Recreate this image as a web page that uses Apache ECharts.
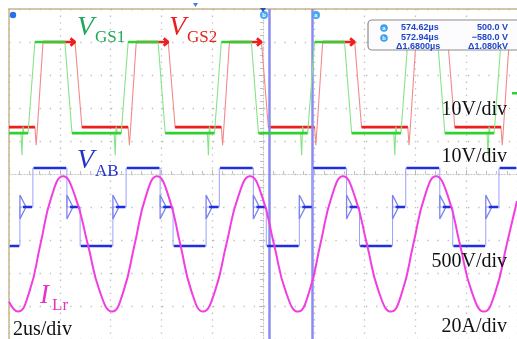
<!DOCTYPE html>
<html lang="en">
<head>
<meta charset="UTF-8">
<title>LLC waveforms</title>
<script src="https://cdn.jsdelivr.net/npm/echarts@6/dist/echarts.min.js"></script>
<style>
  html, body { margin: 0; padding: 0; background: #fff; }
  #main { width: 517px; height: 339px; }
</style>
</head>
<body>
<div id="main"></div>
<script>
// time in us, 0 = trigger (screen centre), 2us/div
var gs1Rise = [[-9.25,-8.98],[-5.58,-5.31],[-1.91,-1.64],[1.76,2.03],[5.43,5.70],[9.10,9.37]];
var gs1Fall = [[-7.80,-7.52],[-4.13,-3.85],[-0.46,-0.18],[3.21,3.49],[6.88,7.16]];
var gs1Glitch = [-9.49,-5.82,-2.15,1.52,5.19,8.86];
var gs1Levels = [0, 27.6];      // V, 10V/div

var gs2Rise = [[-8.98,-8.66],[-5.31,-4.99],[-1.64,-1.32],[2.03,2.35],[5.70,6.02],[9.37,9.69]];
var gs2Fall = [[-7.40,-7.13],[-3.73,-3.46],[-0.06,0.21],[3.61,3.88],[7.28,7.55]];
var gs2Levels = [0, 25.8];      // V, 10V/div

// V_AB step start times and levels (V, 500V/div)
var vabTimes  = [-10,-9.57,-9.06,-7.72,-7.20,-5.91,-5.39,-4.05,-3.54,-2.24,-1.72,-0.38,0.13,1.43,1.95,3.29,3.80,5.10,5.62,6.96,7.47,8.77,9.29];
var vabLevels = [-590,0,590,0,-590,0,590,0,-590,0,590,0,-590,0,590,0,-590,0,590,0,-590,0,590];

// I_Lr (A, 20A/div)
var ilrTimes  = [-10,-9.65,-9.20,-8.76,-8.32,-7.87,-7.40,-6.90,-6.42,-5.94,-5.50,-5.05,-4.61,-4.17,-3.72,-3.26,-2.81,-2.36,-1.90,-1.44,-0.97,-0.51,-0.04,0.43,0.90,1.38,1.82,2.26,2.71,3.15,3.61,4.09,4.56,5.04,5.48,5.92,6.37,6.81,7.28,7.75,8.22,8.70,9.15,9.60,10];
var ilrValues = [-35,-41,-29,0,29,41,29,0,-29,-41,-29,0,29,41,29,0,-29,-41,-29,0,29,41,29,0,-29,-41,-29,0,29,41,29,0,-29,-41,-29,0,29,41,29,0,-29,-41,-29,0,26];

var cursorTimes = [1.93, 0.25];   // a, b

// channel scale (units/div) and ground offset (div)
var ch = {
  gs1: { scale: 10,  off: 1.24 },
  gs2: { scale: 10,  off: 1.42 },
  vab: { scale: 500, off: -1.0 },
  ilr: { scale: 20,  off: -2.12 }
};

function gate(rise, fall, glitch, lv, c, dip, arrow) {
  var lo = lv[0], hi = lv[1];
  function p(t, v) { return [t, c.off + v / c.scale]; }
  var thin = [p(-10, lo)], thick = [];
  var segStart = -10;
  for (var i = 0; i < rise.length; i++) {
    var r0 = rise[i][0], r1 = rise[i][1];
    if (glitch) {
      var g = glitch[i];
      thin.push(p(g - 0.04, lo), p(g, lo - 6.7), p(g + 0.04, lo + 2), p(g + 0.08, lo));
    }
    thick.push(p(segStart, lo), p(r0, lo), [r0, '-']);
    thin.push(p(r0, lo));
    if (dip) thin.push(p(r0 + 0.05, lo - 5.5), p(r0 + 0.1, lo));
    thin.push(p(r1, hi));
    var hiEnd = fall[i] ? fall[i][0] : 10;
    thick.push(p(r1, hi), p(hiEnd, hi), [hiEnd, '-']);
    if (arrow && fall[i]) {
      thick.push(p(hiEnd - 0.18, hi + 1.1), p(hiEnd, hi), p(hiEnd - 0.18, hi - 1.1), [hiEnd, '-']);
    }
    if (fall[i]) {
      thin.push(p(hiEnd, hi), p(fall[i][1], lo));
      segStart = fall[i][1];
    } else {
      thin.push(p(10, hi));
    }
  }
  if (rise.length === fall.length) thin.push(p(10, lo));
  return { thin: thin, thick: thick };
}

var g1 = gate(gs1Rise, gs1Fall, gs1Glitch, gs1Levels, ch.gs1, false, false);
var g2 = gate(gs2Rise, gs2Fall, null, gs2Levels, ch.gs2, true, true);

// V_AB: faint steps, thick flats, small triangle where the mid level starts
var vabThin = [], vabThick = [], vabGlyph = [];
function pv(t, v) { return [t, ch.vab.off + v / ch.vab.scale]; }
for (var i = 0; i < vabTimes.length; i++) {
  var t0 = vabTimes[i], t1 = i + 1 < vabTimes.length ? vabTimes[i + 1] : 10;
  var v = vabLevels[i];
  vabThin.push(pv(t0, v), pv(t1, v));
  if (v === 0 && i > 0) {
    vabGlyph.push(pv(t0, 180), pv(t0 + 0.24, 0), pv(t0, -180), pv(t0, 180), [t0, '-']);
    vabThick.push(pv(t0 + 0.12, 0), pv(t1 - 0.03, 0), [t1, '-']);
  } else {
    vabThick.push(pv(t0 + 0.03, v), pv(t1 - 0.03, v), [t1, '-']);
  }
}

var ilrData = ilrTimes.map(function (t, k) { return [t, ch.ilr.off + ilrValues[k] / ch.ilr.scale]; });

function line(data, color, width, extra) {
  var s = {
    type: 'line', data: data, showSymbol: false, symbol: 'none',
    lineStyle: { color: color, width: width }, silent: true, connectNulls: false
  };
  for (var k in extra) s[k] = extra[k];
  return s;
}

var serif = '"Liberation Serif", "Times New Roman", serif';
var boxFont = 'bold 9px "Liberation Sans", Arial, sans-serif';
var boxBlue = '#2046c8';

function txt(x, y, text, font, fill, align) {
  return { type: 'text', x: x, y: y, z: 50,
    style: { text: text, font: font, fill: fill, align: align || 'left', verticalAlign: 'middle' } };
}

var myChart = echarts.init(document.getElementById('main'));
var option = {
  animation: false,
  backgroundColor: '#ffffff',
  grid: { left: 9, right: 0, top: 9, bottom: 0 },
  xAxis: [
    { type: 'value', min: -10, max: 10, interval: 2, position: 'top',
      axisLine: { show: true, onZero: false, lineStyle: { color: '#c9b48a', width: 1.5 } },
      axisTick: { show: false }, axisLabel: { show: false },
      splitLine: { show: true, lineStyle: { color: '#bdbdbd', width: 1.3, type: [1.3, 5.3] } } },
    { type: 'value', min: -10, max: 10, interval: 2, position: 'bottom',
      axisLine: { show: true, onZero: true, lineStyle: { color: '#c4c4c4', width: 1, type: [1, 2] } },
      axisTick: { show: true, inside: true, length: 4, lineStyle: { color: '#b8b8b8' } },
      minorTick: { show: true, splitNumber: 5, length: 3, lineStyle: { color: '#c0c0c0' } },
      axisLabel: { show: false }, splitLine: { show: false } }
  ],
  yAxis: [
    { type: 'value', min: -5, max: 5, interval: 1, position: 'left',
      axisLine: { show: true, onZero: false, lineStyle: { color: '#c9b48a', width: 1.5 } },
      axisTick: { show: false }, axisLabel: { show: false },
      splitLine: { show: true, lineStyle: { color: '#bdbdbd', width: 1.3, type: [1.3, 8.9] } } },
    { type: 'value', min: -5, max: 5, interval: 1, position: 'right',
      axisLine: { show: true, onZero: true, lineStyle: { color: '#c4c4c4', width: 1, type: [1, 2] } },
      axisTick: { show: true, inside: true, length: 4, lineStyle: { color: '#b8b8b8' } },
      minorTick: { show: true, splitNumber: 5, length: 3, lineStyle: { color: '#c0c0c0' } },
      axisLabel: { show: false }, splitLine: { show: false } }
  ],
  series: [
    { type: 'line', data: [], silent: true, z: 1,
      markLine: { silent: true, symbol: 'none', label: { show: false },
        lineStyle: { color: '#8a8cf0', width: 2.5, type: 'solid' },
        data: cursorTimes.map(function (t) { return { xAxis: t }; }) } },
    line(g2.thin, '#f28a8a', 1.1, { z: 3 }),
    line(g2.thick, '#ec1e1e', 2.6, { z: 4 }),
    line(g1.thin, '#86e486', 1.1, { z: 5 }),
    line(g1.thick, '#2ed12e', 2.6, { z: 6 }),
    line(vabThin, '#9aa0ff', 1, { z: 7 }),
    line(vabGlyph, '#7c84f0', 1.3, { z: 7, areaStyle: null }),
    line(vabThick, '#1f2fe0', 2.6, { z: 8 }),
    line(ilrData, '#f23ee0', 2, { z: 9, smooth: 0.5 })
  ],
  graphic: [
    // channel labels
    txt(77, 28, 'V', 'italic 28px ' + serif, '#1fa85a'),
    txt(95, 38, 'GS1', '17px ' + serif, '#1fa85a'),
    txt(169, 28, 'V', 'italic 28px ' + serif, '#e8201c'),
    txt(187, 38, 'GS2', '17px ' + serif, '#e8201c'),
    txt(77, 161, 'V', 'italic 28px ' + serif, '#2233cc'),
    txt(95, 172, 'AB', '17px ' + serif, '#2233cc'),
    txt(40, 296, 'I', 'italic 27px ' + serif, '#e830c8'),
    txt(52, 306, 'Lr', '17px ' + serif, '#e830c8'),
    // scale labels
    txt(13, 330, '2us/div', '20px ' + serif, '#111'),
    txt(507, 110, '10V/div', '20px ' + serif, '#111', 'right'),
    txt(507, 157, '10V/div', '20px ' + serif, '#111', 'right'),
    txt(507, 262, '500V/div', '20px ' + serif, '#111', 'right'),
    txt(507, 327, '20A/div', '20px ' + serif, '#111', 'right'),
    // cursor readout
    { type: 'rect', z: 40, shape: { x: 368, y: 20, width: 160, height: 30, r: 4 },
      style: { fill: '#fcfcff', stroke: '#8c8c8c', lineWidth: 1.2 } },
    { type: 'circle', z: 45, shape: { cx: 384, cy: 28, r: 3.8 }, style: { fill: '#3aa0ea' } },
    { type: 'circle', z: 45, shape: { cx: 384, cy: 38, r: 3.8 }, style: { fill: '#3aa0ea' } },
    txt(384, 28, 'a', 'bold 6px "Liberation Sans"', '#fff', 'center'),
    txt(384, 38, 'b', 'bold 6px "Liberation Sans"', '#fff', 'center'),
    txt(401, 28, '574.62\u00b5s', boxFont, boxBlue),
    txt(401, 38, '572.94\u00b5s', boxFont, boxBlue),
    txt(396, 47, '\u03941.6800\u00b5s', boxFont, boxBlue),
    txt(508, 28, '500.0 V', boxFont, boxBlue, 'right'),
    txt(508, 38, '\u2212580.0 V', boxFont, boxBlue, 'right'),
    txt(508, 47, '\u03941.080kV', boxFont, boxBlue, 'right'),
    // cursor tags, markers
    { type: 'circle', z: 45, shape: { cx: 264, cy: 15, r: 4 }, style: { fill: '#4aa8ee' } },
    txt(264, 15, 'b', 'bold 6px "Liberation Sans"', '#fff', 'center'),
    { type: 'circle', z: 45, shape: { cx: 316, cy: 15, r: 4 }, style: { fill: '#4aa8ee' } },
    txt(316, 15, 'a', 'bold 6px "Liberation Sans"', '#fff', 'center'),
    { type: 'circle', z: 45, shape: { cx: 13, cy: 15, r: 3.2 }, style: { fill: '#2a6ee8' } },
    { type: 'polygon', z: 45, shape: { points: [[260, 8], [266, 8], [263, 12]] }, style: { fill: '#2050c0' } },
    { type: 'polygon', z: 45, shape: { points: [[193, 3], [198, 3], [195.5, 7]] }, style: { fill: '#3a80e0' } },
    { type: 'rect', z: 45, shape: { x: 512, y: 92, width: 5, height: 2.5 }, style: { fill: '#2ed12e' } }
  ]
};
myChart.setOption(option);
</script>
</body>
</html>
